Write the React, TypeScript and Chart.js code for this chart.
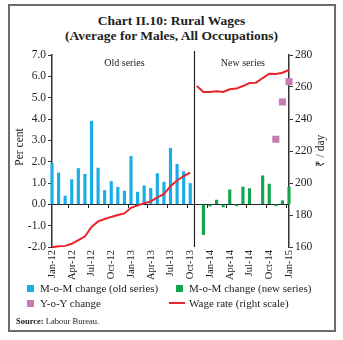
import React, { useEffect, useRef } from "react";
import { Chart, registerables } from "chart.js";
Chart.register(...registerables);

const months = [
  "Jan-12","Feb-12","Mar-12","Apr-12","May-12","Jun-12","Jul-12","Aug-12","Sep-12","Oct-12","Nov-12","Dec-12",
  "Jan-13","Feb-13","Mar-13","Apr-13","May-13","Jun-13","Jul-13","Aug-13","Sep-13","Oct-13","Nov-13","Dec-13",
  "Jan-14","Feb-14","Mar-14","Apr-14","May-14","Jun-14","Jul-14","Aug-14","Sep-14","Oct-14","Nov-14","Dec-14",
  "Jan-15",
];

// M-o-M change, old series (Jan-12 .. Oct-13)
const momOld = [
  1.92, 1.47, 0.39, 1.16, 1.68, 1.41, 3.9, 1.7, 0.65, 1.07, 0.8, 0.62,
  2.25, 0.57, 0.87, 0.75, 1.44, 1.04, 2.63, 1.88, 1.53, 0.98,
  null, null, null, null, null, null, null, null, null, null, null, null, null, null, null,
];

// M-o-M change, new series (Nov-13 .. Jan-15)
const momNew = [
  null, null, null, null, null, null, null, null, null, null, null, null,
  null, null, null, null, null, null, null, null, null, null,
  null, -1.42, -0.08, 0.2, -0.12, 0.68, -0.07, 0.81, 0.74, null, 1.34, 0.95, -0.07, 0.17, 0.8,
];

// Y-o-Y change
const yoy = [
  null, null, null, null, null, null, null, null, null, null, null, null,
  null, null, null, null, null, null, null, null, null, null,
  null, null, null, null, null, null, null, null, null, null, null, null, 3.05, 4.8, 5.75,
];

// Wage rate (right scale), old series
const wageOld = [
  159.8, 160.4, 160.7, 162, 164.3, 166.5, 172.5, 176, 177.5, 178.8, 180, 181,
  184.5, 186, 187.3, 188.5, 191, 193, 198, 201.6, 204.3, 206.5,
  null, null, null, null, null, null, null, null, null, null, null, null, null, null, null,
];

// Wage rate (right scale), new series
const wageNew = [
  null, null, null, null, null, null, null, null, null, null, null, null,
  null, null, null, null, null, null, null, null, null, null,
  260.6, 256.9, 256.9, 257.3, 256.9, 258.6, 259, 260.6, 262.5, 262.7, 265.6, 268.3, 268.1, 268.9, 270.6,
];

const leftTicks = { min: -2, max: 7, step: 1 };
const rightTicks = { min: 160, max: 280, step: 20 };

const BLUE = "#19ACE6";
const GREEN = "#12A54E";
const PINK = "#C77BB3";
const RED = "#E8252B";
const AXIS = "#333333";
const FONT = '"Liberation Serif", serif';

const overlay = {
  id: "overlay",
  beforeDatasetsDraw(chart: any) {
    const { ctx, chartArea } = chart;
    const xs = chart.scales.x;
    const ys = chart.scales.y;
    const y0 = Math.round(ys.getPixelForValue(0));
    ctx.save();
    ctx.strokeStyle = "#222";
    ctx.lineWidth = 1;
    ctx.beginPath();
    ctx.moveTo(chartArea.left, y0 + 0.5);
    ctx.lineTo(chartArea.right, y0 + 0.5);
    for (let i = 3; i < months.length; i += 3) {
      const x = Math.round((xs.getPixelForValue(i - 1) + xs.getPixelForValue(i)) / 2) + 0.5;
      ctx.moveTo(x, y0);
      ctx.lineTo(x, y0 + 4);
    }
    ctx.stroke();
    ctx.restore();
  },
  afterDraw(chart: any) {
    const { ctx, chartArea } = chart;
    const xs = chart.scales.x;
    const ys = chart.scales.y;
    ctx.save();
    // divider between old and new series
    const xd = Math.round((xs.getPixelForValue(21) + xs.getPixelForValue(22)) / 2) + 0.5;
    ctx.strokeStyle = "#222";
    ctx.lineWidth = 1.2;
    ctx.beginPath();
    ctx.moveTo(xd, chartArea.top - 4);
    ctx.lineTo(xd, chartArea.bottom);
    ctx.stroke();
    // series labels
    ctx.fillStyle = "#222";
    ctx.font = `10px ${FONT}`;
    ctx.textAlign = "center";
    ctx.textBaseline = "middle";
    ctx.fillText("Old series", xs.getPixelForValue(11), ys.getPixelForValue(6.6));
    ctx.fillText("New series", xs.getPixelForValue(29), ys.getPixelForValue(6.6));
    // axis titles
    const yc = (chartArea.top + chartArea.bottom) / 2;
    ctx.font = `11.5px ${FONT}`;
    ctx.translate(20, yc - 4);
    ctx.rotate(-Math.PI / 2);
    ctx.fillText("Per cent", 0, 0);
    ctx.setTransform(1, 0, 0, 1, 0, 0);
    ctx.translate(chartArea.right + 32, yc);
    ctx.rotate(-Math.PI / 2);
    ctx.fillText("₹ / day", 0, 0);
    ctx.restore();
  },
};

export default function App() {
  const ref = useRef<HTMLCanvasElement>(null);
  useEffect(() => {
    const chart = new Chart(ref.current as HTMLCanvasElement, {
      type: "bar",
      data: {
        labels: months,
        datasets: [
          {
            type: "line",
            label: "Wage rate (right scale)",
            data: wageOld,
            yAxisID: "y2",
            borderColor: RED,
            borderWidth: 2,
            pointRadius: 0,
            tension: 0,
            order: 0,
          } as any,
          {
            type: "line",
            label: "Wage rate new",
            data: wageNew,
            yAxisID: "y2",
            borderColor: RED,
            borderWidth: 2,
            pointRadius: 0,
            tension: 0,
            order: 0,
          } as any,
          {
            type: "line",
            label: "Y-o-Y change",
            data: yoy,
            yAxisID: "y",
            showLine: false,
            pointStyle: "rect",
            pointRadius: 5,
            backgroundColor: PINK,
            borderColor: PINK,
            borderWidth: 0,
            order: 1,
          } as any,
          {
            type: "bar",
            label: "M-o-M change (old series)",
            data: momOld,
            yAxisID: "y",
            backgroundColor: BLUE,
            barThickness: 2.5,
            grouped: false,
            order: 2,
          } as any,
          {
            type: "bar",
            label: "M-o-M change (new series)",
            data: momNew,
            yAxisID: "y",
            backgroundColor: GREEN,
            barThickness: 2.5,
            grouped: false,
            order: 2,
          } as any,
        ],
      },
      options: {
        animation: false,
        responsive: true,
        maintainAspectRatio: false,
        clip: false as any,
        layout: { padding: { top: 10, left: 0, right: 0, bottom: 0 } },
        plugins: { legend: { display: false }, tooltip: { enabled: false }, title: { display: false } },
        scales: {
          x: {
            type: "category",
            offset: false,
            grid: { display: false, drawTicks: false, tickLength: 0 },
            border: { display: false },
            ticks: {
              autoSkip: false,
              maxRotation: 90,
              minRotation: 90,
              padding: 3,
              color: "#222",
              font: { family: FONT, size: 10.5 },
              callback: (_v: any, i: number) => (i % 3 === 0 ? months[i] : ""),
            },
            afterFit: (s: any) => { s.height = 36; },
          },
          y: {
            position: "left",
            min: leftTicks.min,
            max: leftTicks.max,
            grid: { drawOnChartArea: false, tickLength: 4, color: AXIS, lineWidth: 1 },
            border: { color: AXIS, width: 1.5 },
            ticks: {
              stepSize: leftTicks.step,
              padding: 2,
              color: "#222",
              font: { family: FONT, size: 11.5 },
              callback: (v: any) => Number(v).toFixed(1),
            },
            afterFit: (s: any) => { s.width = 52; },
          },
          y2: {
            position: "right",
            min: rightTicks.min,
            max: rightTicks.max,
            grid: { drawOnChartArea: false, tickLength: 4, color: AXIS, lineWidth: 1 },
            border: { color: AXIS, width: 1.5 },
            ticks: {
              stepSize: rightTicks.step,
              padding: 2,
              color: "#222",
              font: { family: FONT, size: 11.5 },
            },
            afterFit: (s: any) => { s.width = 54; },
          },
        },
      } as any,
      plugins: [overlay],
    });
    return () => chart.destroy();
  }, []);

  const legendText: React.CSSProperties = { position: "absolute", fontSize: 11, lineHeight: "14px", whiteSpace: "nowrap" };
  const sq = (c: string): React.CSSProperties => ({ position: "absolute", width: 7, height: 7, background: c });

  return (
    <div style={{ position: "absolute", left: 0, top: 0, width: 343, height: 340, fontFamily: FONT, color: "#222" }}>
      <div style={{ position: "absolute", left: 8, top: 4, width: 328, height: 328, border: "2px solid #6d6d6d", boxSizing: "border-box" }} />
      <div style={{ position: "absolute", left: 0, top: 13, width: 343, textAlign: "center", fontWeight: "bold", fontSize: 13.5, lineHeight: "15px" }}>
        <div>Chart II.10: Rural Wages</div>
        <div>(Average for Males, All Occupations)</div>
      </div>
      <div style={{ position: "absolute", left: 0, top: 45, width: 343, height: 238 }}>
        <canvas ref={ref} />
      </div>
      <div style={{ ...sq(BLUE), left: 27, top: 285 }} />
      <div style={{ ...legendText, left: 40, top: 281 }}>M-o-M change (old series)</div>
      <div style={{ ...sq(GREEN), left: 176, top: 285 }} />
      <div style={{ ...legendText, left: 189, top: 281 }}>M-o-M change (new series)</div>
      <div style={{ ...sq(PINK), left: 27, top: 300 }} />
      <div style={{ ...legendText, left: 40, top: 296 }}>Y-o-Y change</div>
      <div style={{ position: "absolute", left: 169, top: 302, width: 16, height: 2, background: RED }} />
      <div style={{ ...legendText, left: 189, top: 296 }}>Wage rate (right scale)</div>
      <div style={{ position: "absolute", left: 16, top: 316, fontSize: 8.5, lineHeight: "11px", whiteSpace: "nowrap" }}>
        <b>Source:</b> Labour Bureau.
      </div>
    </div>
  );
}
